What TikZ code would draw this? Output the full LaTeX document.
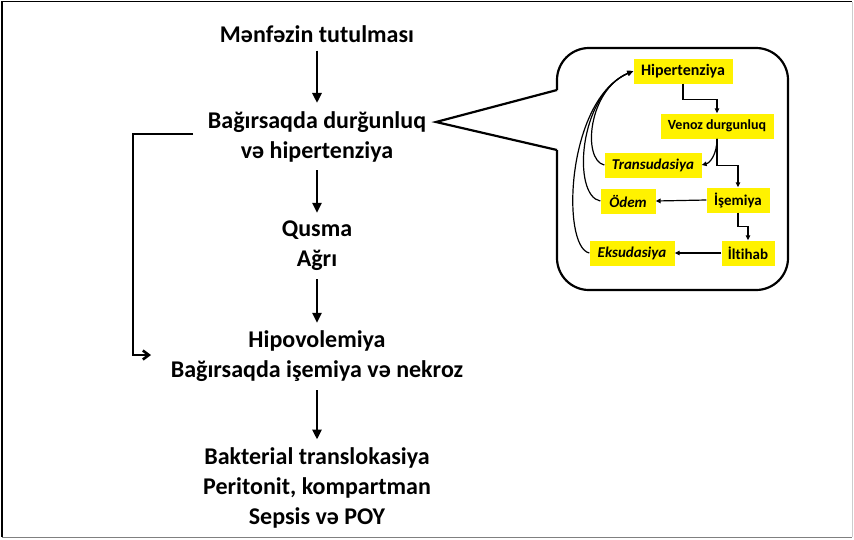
\documentclass[tikz,border=0pt]{standalone}
\usepackage{fontspec}
\setmainfont{Carlito}[Ligatures=NoCommon]
\usetikzlibrary{arrows.meta}
\begin{document}
\begin{tikzpicture}[x=1pt,y=-1pt,
  main/.style={align=center,inner sep=0pt,font=\fontsize{24}{30}\selectfont\bfseries},
  mainarrow/.style={line width=2.6pt,-{Triangle[length=10pt,width=9pt]}},
  ybox/.style={fill=yellow,inner sep=0pt,minimum height=25pt,font=\fontsize{15}{17}\selectfont\bfseries},
  yit/.style={ybox,font=\fontsize{15}{17}\selectfont\bfseries\itshape},
  small/.style={line width=1.2pt,-{Triangle[length=5pt,width=4.5pt]}},
  fb/.style={line width=1.2pt}
]
\useasboundingbox (0,0) rectangle (854,539);
% frame
\draw[black,line width=1.5pt] (2,537) -- (2,1.5) -- (852,1.5);
\draw[gray!40,line width=1pt] (852,1.5) -- (852,537);
\draw[gray,line width=1.5pt] (2,537.5) -- (852,537.5);

% main column
\node[main] (m1) at (317,34) {Mənfəzin tutulması};
\node[main] (m2) at (317,136.5) {Bağırsaqda durğunluq\\və hipertenziya};
\node[main] (m3) at (317,246) {Qusma\\Ağrı};
\node[main] (m4) at (317,356.5) {Hipovolemiya\\Bağırsaqda işemiya və nekroz};
\node[main] (m5) at (317,488) {Bakterial translokasiya\\Peritonit, kompartman\\Sepsis və POY};

\draw[mainarrow,shorten <=8pt,shorten >=8pt] (m1.south) -- (m2.north);
\draw[mainarrow,shorten <=8pt,shorten >=8pt] (m2.south) -- (m3.north);
\draw[mainarrow,shorten <=8pt,shorten >=8pt] (m3.south) -- (m4.north);
\draw[mainarrow,shorten <=8pt,shorten >=8pt] (m4.south) -- (m5.north);

% bracket arrow
\coordinate (b1) at (193,134);
\coordinate (b2) at (133,134);
\coordinate (b3) at (133,355);
\coordinate (b4) at (151,355);
\draw[line width=2.6pt,-{Straight Barb[length=6pt,width=9pt]}] (b1) -- (b2) -- (b3) -- (b4);

% callout
\coordinate (c1) at (557,150);
\coordinate (c2) at (557,90);
\coordinate (tip) at (436,122);
\draw[line width=2.2pt,rounded corners=32pt] (c1) -- (557,290) -- (788,290) -- (788,48) -- (557,48) -- (c2);
\draw[line width=2.2pt,line join=miter] (c2) -- (tip) -- (c1);

% yellow boxes
\node[ybox,minimum width=99pt,font=\fontsize{16}{18}\selectfont\bfseries] (hip) at (683,71) {Hipertenziya};
\node[ybox,minimum width=113pt,font=\fontsize{14}{16}\selectfont\bfseries] (ven) at (717,126) {Venoz durgunluq};
\node[yit,minimum width=97pt] (tra) at (653,165) {Transudasiya};
\node[yit,minimum width=55pt] (ode) at (628,201) {Ödem};
\node[ybox,minimum width=63pt] (ise) at (738,200) {İşemiya};
\node[yit,minimum width=85pt] (eks) at (632,253) {Eksudasiya};
\node[ybox,minimum width=53pt] (ilt) at (748,253) {İltihab};

% inner arrows
\draw[small] (hip.south) -- ++(0,16) -| (ven.north);
\draw[small] (ven.south) .. controls +(0,16) and +(8,-2) .. (tra.east);
\draw[small] (ven.south) -- ++(0,27) -| (ise.north);
\draw[small] (ise.south) -- ++(0,14) -| (ilt.north);
\draw[small] (ise.west) -- (ode.east);
\draw[small] (ilt.west) -- (eks.east);

% feedback curves
\draw[fb,-{Triangle[length=6pt,width=5pt]}] (tra.west) .. controls (582,160) and (588,90) .. (hip.west);
\draw[fb,-{Triangle[length=6pt,width=5pt]}] (ode.west) .. controls (572,196) and (578,95) .. (hip.west);
\draw[fb,-{Triangle[length=6pt,width=5pt]}] (eks.west) .. controls (561,247) and (566,100) .. (hip.west);
\end{tikzpicture}
\end{document}
